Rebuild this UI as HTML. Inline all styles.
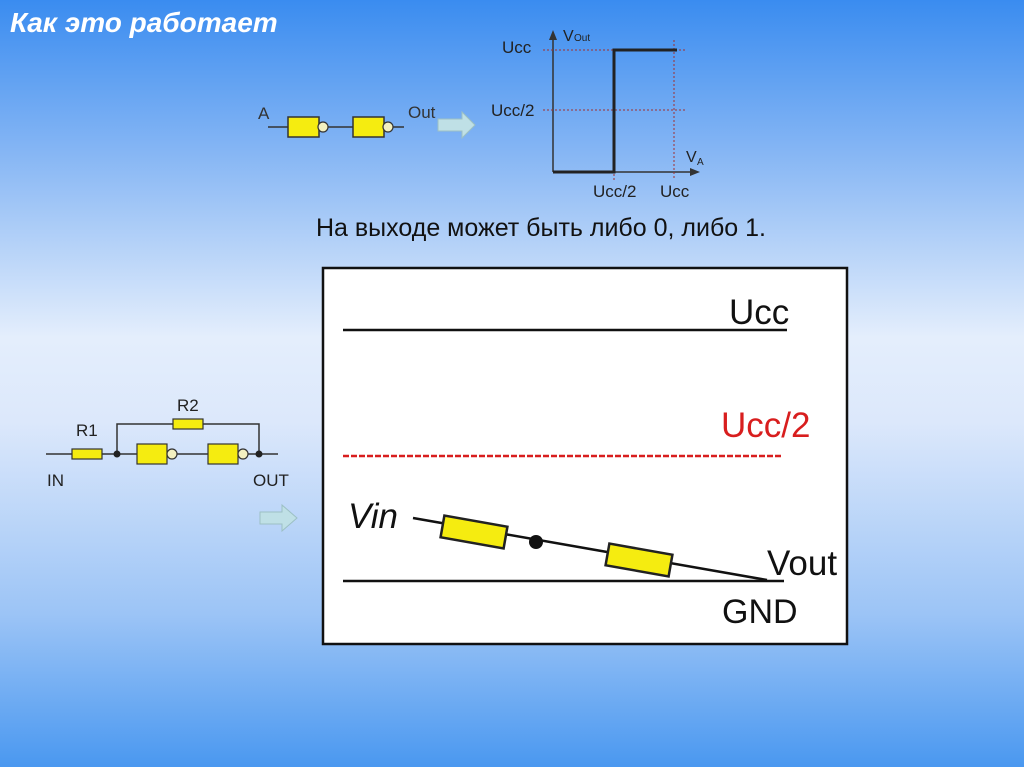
<!DOCTYPE html>
<html><head><meta charset="utf-8"><style>
html,body{margin:0;padding:0}
body{width:1024px;height:767px;overflow:hidden;background:linear-gradient(to bottom,#3a8cf0 0%,#86b6f4 20%,#e4eefc 44%,#dce8fb 55%,#9cc4f6 80%,#4a98f0 100%)}
svg{display:block}
text{font-family:"Liberation Sans","Noto Sans CJK SC",sans-serif}
</style></head><body>
<svg width="1024" height="767" viewBox="0 0 1024 767">
<text x="10" y="32" font-size="28" font-weight="bold" font-style="italic" fill="#fff">Как это работает</text>
<!-- top circuit -->
<text x="258" y="119" font-size="17" fill="#333">A</text>
<text x="408" y="118" font-size="17" fill="#333">Out</text>
<line x1="268" y1="127" x2="404" y2="127" stroke="#333" stroke-width="1.5"/>
<rect x="288" y="117" width="31" height="20" fill="#f5ec10" stroke="#333" stroke-width="1.5"/>
<circle cx="323" cy="127" r="5" fill="#f3f0c0" stroke="#333" stroke-width="1.2"/>
<rect x="353" y="117" width="31" height="20" fill="#f5ec10" stroke="#333" stroke-width="1.5"/>
<circle cx="388" cy="127" r="5" fill="#f3f0c0" stroke="#333" stroke-width="1.2"/>
<polygon points="438,119 462,119 462,112 475,125 462,138 462,131 438,131" fill="#bfe0e6" stroke="#9cc0c4" stroke-width="1"/>
<!-- graph -->
<line x1="553" y1="172" x2="553" y2="36" stroke="#333" stroke-width="1.5"/>
<polygon points="553,30 549,40 557,40" fill="#333"/>
<line x1="553" y1="172" x2="694" y2="172" stroke="#333" stroke-width="1.5"/>
<polygon points="700,172 690,168 690,176" fill="#333"/>
<line x1="543" y1="50" x2="686" y2="50" stroke="#a03030" stroke-width="1" stroke-dasharray="2,2"/>
<line x1="543" y1="110" x2="686" y2="110" stroke="#a03030" stroke-width="1" stroke-dasharray="2,2"/>
<line x1="614" y1="50" x2="614" y2="180" stroke="#a03030" stroke-width="1" stroke-dasharray="2,2"/>
<line x1="674" y1="40" x2="674" y2="180" stroke="#a03030" stroke-width="1" stroke-dasharray="2,2"/>
<polyline points="553,172 614,172 614,50 677,50" fill="none" stroke="#222" stroke-width="3"/>
<text x="563" y="41" font-size="16" fill="#222">V</text><text x="574" y="41" font-size="10" fill="#222">Out</text>
<text x="502" y="53" font-size="17" fill="#222">Ucc</text>
<text x="491" y="116" font-size="17" fill="#222">Ucc/2</text>
<text x="686" y="162" font-size="16" fill="#222">V</text><text x="697" y="165" font-size="10" fill="#222">A</text>
<text x="593" y="197" font-size="17" fill="#222">Ucc/2</text>
<text x="660" y="197" font-size="17" fill="#222">Ucc</text>
<text x="316" y="236" font-size="25" fill="#111">На выходе может быть либо 0, либо 1.</text>
<!-- left circuit -->
<text x="76" y="436" font-size="17" fill="#222">R1</text>
<text x="177" y="411" font-size="17" fill="#222">R2</text>
<text x="47" y="486" font-size="17" fill="#222">IN</text>
<text x="253" y="486" font-size="17" fill="#222">OUT</text>
<line x1="46" y1="454" x2="278" y2="454" stroke="#333" stroke-width="1.5"/>
<polyline points="117,454 117,424 259,424 259,454" fill="none" stroke="#333" stroke-width="1.5"/>
<rect x="72" y="449" width="30" height="10" fill="#f5ec10" stroke="#333" stroke-width="1.2"/>
<rect x="173" y="419" width="30" height="10" fill="#f5ec10" stroke="#333" stroke-width="1.2"/>
<rect x="137" y="444" width="30" height="20" fill="#f5ec10" stroke="#333" stroke-width="1.2"/>
<circle cx="172" cy="454" r="5" fill="#f3f0c0" stroke="#333" stroke-width="1.2"/>
<rect x="208" y="444" width="30" height="20" fill="#f5ec10" stroke="#333" stroke-width="1.2"/>
<circle cx="243" cy="454" r="5" fill="#f3f0c0" stroke="#333" stroke-width="1.2"/>
<circle cx="117" cy="454" r="3.5" fill="#222"/>
<circle cx="259" cy="454" r="3.5" fill="#222"/>
<polygon points="260,512 282,512 282,505 297,518 282,531 282,524 260,524" fill="#bfe0e6" stroke="#9cc0c4" stroke-width="1"/>
<!-- box -->
<rect x="323" y="268" width="524" height="376" fill="#fff" stroke="#111" stroke-width="2.5"/>
<line x1="343" y1="330" x2="787" y2="330" stroke="#111" stroke-width="2.5"/>
<text x="729" y="324" font-size="35" fill="#111">Ucc</text>
<text x="721" y="437" font-size="35" fill="#d81e1e">Ucc/2</text>
<line x1="343" y1="456" x2="783" y2="456" stroke="#d81e1e" stroke-width="2.5" stroke-dasharray="6,2"/>
<text x="348" y="528" font-size="35" font-style="italic" fill="#111">Vin</text>
<line x1="343" y1="581" x2="784" y2="581" stroke="#111" stroke-width="2.5"/>
<line x1="413" y1="518" x2="767" y2="580" stroke="#111" stroke-width="2.5"/>
<g transform="translate(474,532) rotate(10)"><rect x="-32" y="-11" width="64" height="22" fill="#f5ec10" stroke="#222" stroke-width="2.5"/></g>
<circle cx="536" cy="542" r="7" fill="#111"/>
<g transform="translate(639,560) rotate(10)"><rect x="-32" y="-11" width="64" height="22" fill="#f5ec10" stroke="#222" stroke-width="2.5"/></g>
<text x="767" y="575" font-size="35" fill="#111">Vout</text>
<text x="722" y="623" font-size="34" fill="#111">GND</text>
</svg>
</body></html>
